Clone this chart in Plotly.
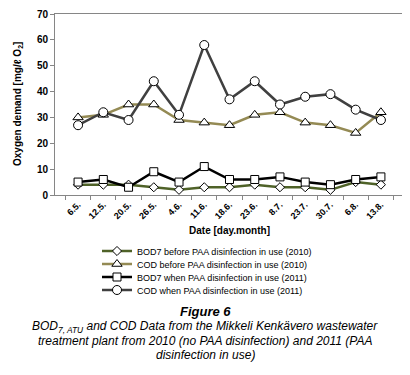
import plotly.graph_objects as go

dates = ["6.5.", "12.5.", "20.5.", "26.5.", "4.6.", "11.6.", "18.6.", "23.6.",
         "8.7.", "23.7.", "30.7.", "6.8.", "13.8."]
bod7_2010 = [4, 4, 4, 3, 2, 3, 3, 4, 3, 3, 2, 5, 4]
cod_2010 = [30, 31, 35, 35, 29, 28, 27, 31, 32, 28, 27, 24, 32]
bod7_2011 = [5, 6, 3, 9, 5, 11, 6, 6, 7, 5, 4, 6, 7]
cod_2011 = [27, 32, 29, 44, 31, 58, 37, 44, 35, 38, 39, 33, 29]

y_ticks = [0, 10, 20, 30, 40, 50, 60, 70]

FONT = "Liberation Sans, Arial, sans-serif"
OFF = 8  # default page body margin
W, H = 410 - OFF, 375 - OFF
# plot area in screenshot pixels: x 55..404, y 14..195
L, R, T, B = 55 - OFF, W - (404 - OFF), 14 - OFF, H - (195 - OFF)

series = [
    ("BOD7 before PAA disinfection in use (2010)", bod7_2010, "#4f6228", "diamond", 7),
    ("COD before PAA disinfection in use (2010)", cod_2010, "#948a54", "triangle-up", 9),
    ("BOD7 when PAA disinfection in use (2011)", bod7_2011, "#000000", "square", 8),
    ("COD when PAA disinfection in use (2011)", cod_2011, "#404040", "circle", 9),
]
legend_rows = [251, 264, 277, 290]

fig = go.Figure()
layout_legends = {}
for i, (name, vals, col, sym, sz) in enumerate(series):
    key = "legend" if i == 0 else f"legend{i + 1}"
    fig.add_trace(go.Scatter(
        x=dates, y=vals, name=name, mode="lines+markers",
        line=dict(color=col, width=2.5),
        marker=dict(symbol=sym, size=sz, color="white",
                    line=dict(color="#000000", width=1)),
        legend=key,
    ))
    layout_legends[key] = dict(
        x=(97 - OFF) / W, xref="container", xanchor="left",
        y=1 - (legend_rows[i] - OFF) / H, yref="container", yanchor="middle",
        font=dict(family=FONT, size=9, color="#000000"),
        bgcolor="rgba(0,0,0,0)", itemwidth=30,
    )

fig.update_layout(
    width=W, height=H,
    margin=dict(l=L, r=R, t=T, b=B, autoexpand=False),
    paper_bgcolor="white", plot_bgcolor="white",
    font=dict(family=FONT, size=10, color="#000000"),
    showlegend=True,
    xaxis=dict(
        type="category", tickangle=-45, tickson="boundaries",
        ticks="outside", ticklen=4, tickcolor="#868686",
        showline=True, linecolor="#868686", mirror=True, showgrid=False,
        tickfont=dict(family=FONT, size=9, color="#000000", weight="bold"),
        title=dict(text="Date [day.month]", standoff=6,
                   font=dict(family=FONT, size=10, weight="bold")),
    ),
    yaxis=dict(
        range=[0, 70], tickvals=y_ticks, ticks="outside", ticklen=4,
        tickcolor="#868686", showline=True, linecolor="#868686", mirror=True,
        showgrid=False, zeroline=False,
        tickfont=dict(family=FONT, size=10, color="#000000", weight="bold"),
    ),
    **layout_legends,
)

ph = H - T - B
pw = W - L - R


def px_(xpix):
    return (xpix - OFF - L) / pw


def py(ypix):
    return (H - B - (ypix - OFF)) / ph


# y-axis title
fig.add_annotation(
    text="<b>Oxygen demand [mg/ℓ O<sub>2</sub>]</b>", textangle=-90,
    xref="paper", x=px_(18), yref="paper", y=py(104),
    xanchor="center", yanchor="middle", showarrow=False,
    font=dict(family=FONT, size=10, color="#000000"),
)

fig.add_annotation(
    text="<b><i>Figure 6</i></b>", xref="paper", x=px_(205),
    yref="paper", y=py(311), yanchor="middle", showarrow=False,
    font=dict(family=FONT, size=13, color="#000000"),
)
caption_lines = [
    ("<i>BOD<sub>7, ATU</sub> and COD Data from the Mikkeli Kenkävero wastewater</i>", 327),
    ("<i>treatment plant from 2010 (no PAA disinfection) and 2011 (PAA</i>", 341),
    ("<i>disinfection in use)</i>", 355),
]
for txt, yp in caption_lines:
    fig.add_annotation(
        text=txt, xref="paper", x=px_(205), yref="paper",
        y=py(yp), yanchor="middle", xanchor="center", showarrow=False,
        font=dict(family=FONT, size=12, color="#000000"),
    )

fig.write_html("out.html")
